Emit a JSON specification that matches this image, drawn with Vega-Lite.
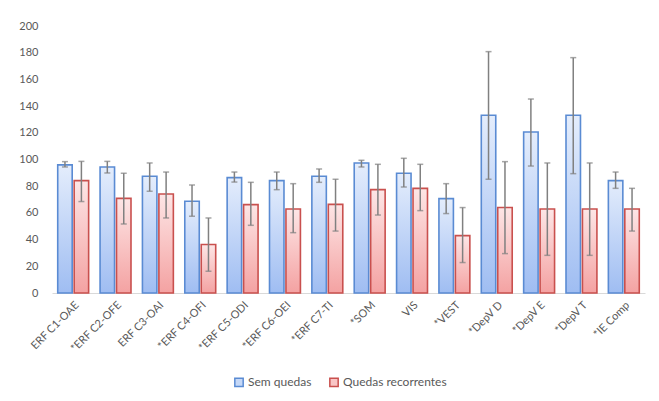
{
  "$schema": "https://vega.github.io/schema/vega-lite/v6.json",
  "width": 593,
  "height": 267,
  "autosize": "none",
  "padding": {"left": 52, "top": 26, "right": 14, "bottom": 108},
  "background": "white",
  "config": {
    "font": "Lato",
    "view": {"stroke": null},
    "axis": {"labelColor": "#595959", "labelFont": "Lato", "labelFontSize": 11, "grid": false, "ticks": false, "title": null, "labelOverlap": false},
    "axisY": {"labelOverlap": false, "tickCount": 12, "domain": false, "labelPadding": 14},
    "legend": {"labelColor": "#595959", "labelFont": "Lato", "labelFontSize": 12}
  },
  "data": {"values": [
    {"cat": "ERF C1-OAE", "serie": "Sem quedas", "mean": 96.0, "lo": 94.4, "hi": 98.4},
    {"cat": "ERF C1-OAE", "serie": "Quedas recorrentes", "mean": 84.2, "lo": 68.5, "hi": 98.6},
    {"cat": "*ERF C2-OFE", "serie": "Sem quedas", "mean": 94.4, "lo": 89.9, "hi": 98.6},
    {"cat": "*ERF C2-OFE", "serie": "Quedas recorrentes", "mean": 70.9, "lo": 51.7, "hi": 89.7},
    {"cat": "ERF C3-OAI", "serie": "Sem quedas", "mean": 87.4, "lo": 76.2, "hi": 97.4},
    {"cat": "ERF C3-OAI", "serie": "Quedas recorrentes", "mean": 74.2, "lo": 56.2, "hi": 90.6},
    {"cat": "*ERF C4-OFI", "serie": "Sem quedas", "mean": 68.7, "lo": 57.5, "hi": 80.9},
    {"cat": "*ERF C4-OFI", "serie": "Quedas recorrentes", "mean": 36.3, "lo": 16.3, "hi": 56.2},
    {"cat": "*ERF C5-ODI", "serie": "Sem quedas", "mean": 86.4, "lo": 83.1, "hi": 90.6},
    {"cat": "*ERF C5-ODI", "serie": "Quedas recorrentes", "mean": 66.2, "lo": 50.7, "hi": 82.9},
    {"cat": "*ERF C6-OEI", "serie": "Sem quedas", "mean": 84.2, "lo": 77.4, "hi": 90.6},
    {"cat": "*ERF C6-OEI", "serie": "Quedas recorrentes", "mean": 62.9, "lo": 45.2, "hi": 81.9},
    {"cat": "*ERF C7-TI", "serie": "Sem quedas", "mean": 87.4, "lo": 82.9, "hi": 92.9},
    {"cat": "*ERF C7-TI", "serie": "Quedas recorrentes", "mean": 66.4, "lo": 46.4, "hi": 85.2},
    {"cat": "*SOM", "serie": "Sem quedas", "mean": 97.4, "lo": 94.4, "hi": 99.4},
    {"cat": "*SOM", "serie": "Quedas recorrentes", "mean": 77.4, "lo": 58.4, "hi": 96.4},
    {"cat": "VIS", "serie": "Sem quedas", "mean": 89.7, "lo": 79.4, "hi": 100.9},
    {"cat": "VIS", "serie": "Quedas recorrentes", "mean": 78.4, "lo": 61.7, "hi": 96.4},
    {"cat": "*VEST", "serie": "Sem quedas", "mean": 70.7, "lo": 59.5, "hi": 81.9},
    {"cat": "*VEST", "serie": "Quedas recorrentes", "mean": 43.0, "lo": 22.8, "hi": 64.0},
    {"cat": "*DepV D", "serie": "Sem quedas", "mean": 133.1, "lo": 85.2, "hi": 180.8},
    {"cat": "*DepV D", "serie": "Quedas recorrentes", "mean": 64.0, "lo": 29.5, "hi": 98.4},
    {"cat": "*DepV E", "serie": "Sem quedas", "mean": 120.6, "lo": 95.1, "hi": 145.3},
    {"cat": "*DepV E", "serie": "Quedas recorrentes", "mean": 62.9, "lo": 28.2, "hi": 97.4},
    {"cat": "*DepV T", "serie": "Sem quedas", "mean": 133.1, "lo": 89.4, "hi": 176.3},
    {"cat": "*DepV T", "serie": "Quedas recorrentes", "mean": 62.9, "lo": 28.2, "hi": 97.4},
    {"cat": "*IE Comp", "serie": "Sem quedas", "mean": 84.2, "lo": 78.4, "hi": 90.6},
    {"cat": "*IE Comp", "serie": "Quedas recorrentes", "mean": 62.9, "lo": 46.4, "hi": 78.4}
  ]},
  "encoding": {
    "x": {
      "field": "cat", "type": "nominal", "sort": null,
      "scale": {"paddingInner": 0.27, "paddingOuter": 0.135},
      "axis": {"labelAngle": -45, "labelPadding": 6, "domainColor": "#d9d9d9", "domainWidth": 1.2}
    },
    "xOffset": {"field": "serie", "type": "nominal", "sort": ["Sem quedas", "Quedas recorrentes"], "scale": {"paddingInner": 0.12}}
  },
  "layer": [
    {
      "mark": {"type": "bar", "strokeWidth": 1.6},
      "encoding": {
        "y": {
          "field": "mean", "type": "quantitative",
          "scale": {"domain": [0, 200], "nice": false},
          "axis": {"values": [0, 20, 40, 60, 80, 100, 120, 140, 160, 180, 200], "tickCount": 12, "labelOverlap": false}
        },
        "fill": {
          "condition": {
            "test": "datum.serie === 'Sem quedas'",
            "value": {"gradient": "linear", "x1": 0, "y1": 0, "x2": 0, "y2": 1, "stops": [{"offset": 0, "color": "#e4edfc"}, {"offset": 1, "color": "#9fbdf2"}]}
          },
          "value": {"gradient": "linear", "x1": 0, "y1": 0, "x2": 0, "y2": 1, "stops": [{"offset": 0, "color": "#fde6e6"}, {"offset": 1, "color": "#f4a2a2"}]}
        },
        "stroke": {
          "field": "serie", "type": "nominal",
          "scale": {"domain": ["Sem quedas", "Quedas recorrentes"], "range": ["#5a8bd3", "#c9504e"]},
          "legend": {"title": null, "orient": "none", "legendX": 181, "legendY": 350, "direction": "horizontal", "symbolType": "square", "symbolSize": 70, "symbolStrokeWidth": 1.5, "columnPadding": 14, "labelOffset": 3}
        }
      }
    },
    {
      "mark": {"type": "text", "text": ""},
      "encoding": {
        "y": {"field": "mean", "type": "quantitative"},
        "fill": {
          "field": "serie", "type": "nominal",
          "scale": {"domain": ["Sem quedas", "Quedas recorrentes"], "range": ["#c5d8f7", "#f9c6c6"]},
          "legend": {"title": null, "orient": "none", "legendX": 181, "legendY": 350, "direction": "horizontal", "symbolType": "square", "symbolSize": 70, "symbolStrokeWidth": 1.5, "columnPadding": 14, "labelOffset": 3}
        }
      }
    },
    {
      "mark": {"type": "rule", "color": "#808080", "strokeWidth": 1.5},
      "encoding": {
        "y": {"field": "lo", "type": "quantitative"},
        "y2": {"field": "hi"}
      }
    },
    {
      "mark": {"type": "tick", "color": "#808080", "thickness": 1.5, "size": 6, "orient": "horizontal"},
      "encoding": {"y": {"field": "lo", "type": "quantitative"}}
    },
    {
      "mark": {"type": "tick", "color": "#808080", "thickness": 1.5, "size": 6, "orient": "horizontal"},
      "encoding": {"y": {"field": "hi", "type": "quantitative"}}
    }
  ]
}
